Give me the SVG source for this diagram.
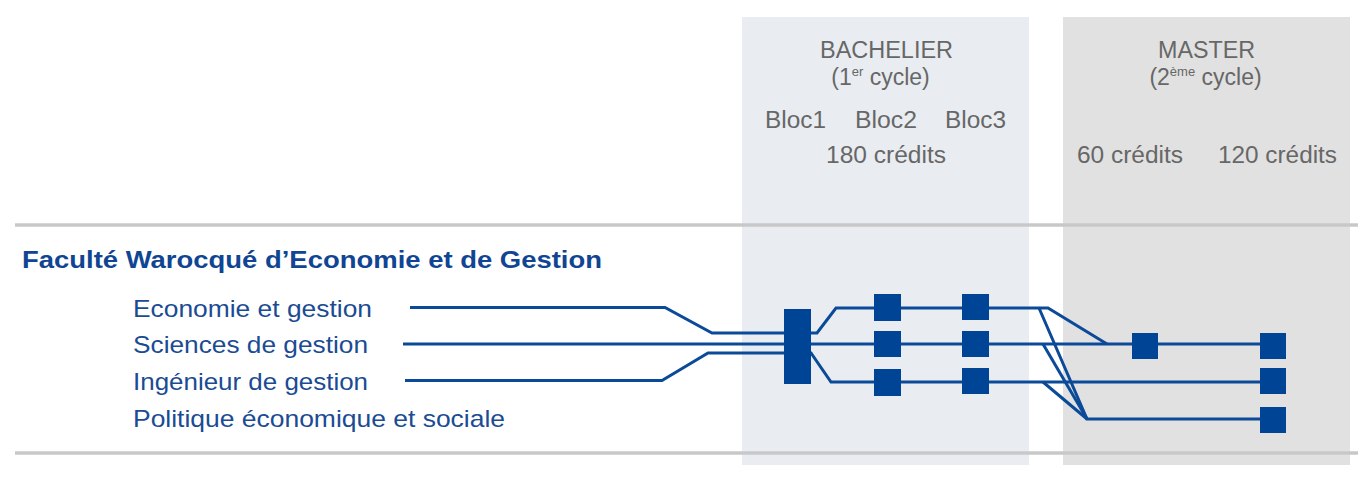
<svg xmlns="http://www.w3.org/2000/svg" width="1362" height="484" viewBox="0 0 1362 484">
<style>
.hdr{font-family:"Liberation Sans",Arial,sans-serif;font-size:23px;fill:#676767;text-anchor:middle}
.item{font-family:"Liberation Sans",Arial,sans-serif;font-size:24px;fill:#1a4b93}
.title{font-family:"Liberation Sans",Arial,sans-serif;font-size:24px;font-weight:bold;fill:#0f4592}
.rule{stroke:#c8c8c8;stroke-width:3.5;fill:none}
.conn{stroke:#0b4a98;stroke-width:3;fill:none;stroke-linejoin:miter}
.blk{fill:#004595}
</style>
<rect width="1362" height="484" fill="#ffffff"/>
<g id="panel-bachelier">
<rect x="742" y="17" width="287" height="448" fill="#e9edf1"/>
<text class="hdr" x="886.5" y="58" textLength="133" lengthAdjust="spacingAndGlyphs">BACHELIER</text>
<text class="hdr" x="880.5" y="85">(1<tspan font-size="13" dy="-9">er</tspan><tspan dy="9"> cycle)</tspan></text>
<text class="hdr" x="795.5" y="128" textLength="61" lengthAdjust="spacingAndGlyphs">Bloc1</text>
<text class="hdr" x="886" y="128" textLength="62" lengthAdjust="spacingAndGlyphs">Bloc2</text>
<text class="hdr" x="975.5" y="128" textLength="61" lengthAdjust="spacingAndGlyphs">Bloc3</text>
<text class="hdr" x="886" y="163" textLength="120" lengthAdjust="spacingAndGlyphs">180 crédits</text>
</g>
<g id="panel-master">
<rect x="1063" y="17" width="287" height="448" fill="#e1e1e1"/>
<text class="hdr" x="1206.5" y="58" textLength="97" lengthAdjust="spacingAndGlyphs">MASTER</text>
<text class="hdr" x="1205.5" y="85">(2<tspan font-size="13" dy="-9">ème</tspan><tspan dy="9"> cycle)</tspan></text>
<text class="hdr" x="1130" y="163" textLength="106" lengthAdjust="spacingAndGlyphs">60 crédits</text>
<text class="hdr" x="1277.5" y="163" textLength="119" lengthAdjust="spacingAndGlyphs">120 crédits</text>
</g>
<g id="rules">
<line class="rule" x1="15" y1="225" x2="1358" y2="225"/>
<line class="rule" x1="15" y1="453" x2="1358" y2="453"/>
</g>
<g id="labels">
<text class="title" x="22" y="268" textLength="580" lengthAdjust="spacingAndGlyphs">Faculté Warocqué d’Economie et de Gestion</text>
<text class="item" x="133" y="317" textLength="239" lengthAdjust="spacingAndGlyphs">Economie et gestion</text>
<text class="item" x="133" y="353" textLength="235" lengthAdjust="spacingAndGlyphs">Sciences de gestion</text>
<text class="item" x="133" y="390" textLength="235" lengthAdjust="spacingAndGlyphs">Ingénieur de gestion</text>
<text class="item" x="133" y="427" textLength="372" lengthAdjust="spacingAndGlyphs">Politique économique et sociale</text>
</g>
<g id="connectors">
<path class="conn" d="M410,307.5 H665 L712,333 H790"/>
<path class="conn" d="M403,344 H1273"/>
<path class="conn" d="M405,380.5 H662 L708,353 H790"/>
<path class="conn" d="M805,333 H817 L836,308 H1048 L1107,344"/>
<path class="conn" d="M1039,308 L1087,419 H1273"/>
<path class="conn" d="M805,353 H811 L831,382 H1273"/>
<path class="conn" d="M1043,344 L1087,419"/>
<path class="conn" d="M1043,382 L1087,419"/>
</g>
<g id="node-bloc1"><rect class="blk" x="784" y="309" width="27" height="75"/></g>
<g id="node-bloc2-a"><rect class="blk" x="874" y="294" width="27" height="27"/></g>
<g id="node-bloc2-b"><rect class="blk" x="874" y="331" width="27" height="26"/></g>
<g id="node-bloc2-c"><rect class="blk" x="874" y="369" width="27" height="27"/></g>
<g id="node-bloc3-a"><rect class="blk" x="962" y="294" width="27" height="26"/></g>
<g id="node-bloc3-b"><rect class="blk" x="962" y="331" width="27" height="26"/></g>
<g id="node-bloc3-c"><rect class="blk" x="962" y="368" width="27" height="26"/></g>
<g id="node-m60"><rect class="blk" x="1132" y="333" width="26" height="26"/></g>
<g id="node-m120-a"><rect class="blk" x="1260" y="333" width="26" height="26"/></g>
<g id="node-m120-b"><rect class="blk" x="1260" y="368" width="26" height="26"/></g>
<g id="node-m120-c"><rect class="blk" x="1260" y="407" width="26" height="26"/></g>
</svg>
